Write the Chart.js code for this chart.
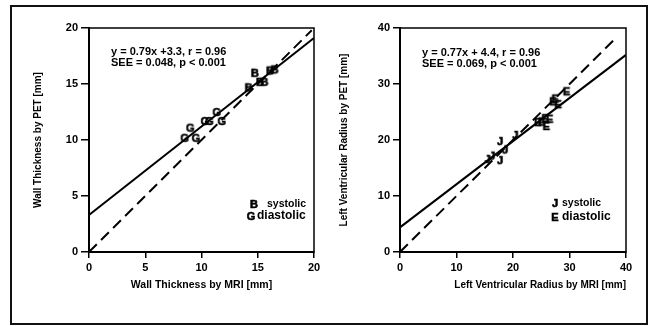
<!DOCTYPE html>
<html>
<head>
<meta charset="utf-8">
<script src="https://cdn.jsdelivr.net/npm/chart.js@4.4.1/dist/chart.umd.min.js"></script>
<style>
  html, body { margin: 0; padding: 0; background: #fff; }
  #page { position: relative; width: 648px; height: 326px; overflow: hidden; }
  #frame { position: absolute; left: 10px; top: 5px; width: 634px; height: 316px; border: 2px solid #111; }
  #wallChart { position: absolute; left: 0; top: 0; }
  #lvChart { position: absolute; left: 330px; top: 0; }
</style>
</head>
<body>
<div id="page">
  <div id="frame"></div>
  <canvas id="wallChart" width="330" height="326"></canvas>
  <canvas id="lvChart" width="318" height="326"></canvas>
</div>
<script>
// --- data: wall thickness (mm) ---
const wallSystolicMri  = [14.2, 14.75, 15.2, 15.6, 16.1, 16.5];
const wallSystolicPet  = [14.7, 16.0, 15.2, 15.2, 16.2, 16.3];
const wallDiastolicMri = [8.5, 9.0, 9.5, 10.3, 10.7, 11.35, 11.8];
const wallDiastolicPet = [10.2, 11.1, 10.2, 11.7, 11.7, 12.5, 11.7];
const wallFit = [0.79, 3.3];          // slope, intercept
const wallAxis = [0, 20, 5];          // min, max, step
const wallIdentityEnd = 19.8;

// --- data: left ventricular radius (mm) ---
const lvSystolicMri  = [15.5, 16.3, 17.7, 17.7, 18.6, 20.4];
const lvSystolicPet  = [16.6, 17.2, 16.4, 19.8, 18.3, 20.9];
const lvDiastolicMri = [24.4, 25.1, 25.7, 25.9, 26.5, 27.1, 27.5, 28.0, 29.5];
const lvDiastolicPet = [23.2, 23.3, 23.9, 22.5, 23.8, 26.9, 27.4, 26.4, 28.7];
const lvFit = [0.77, 4.4];
const lvAxis = [0, 40, 10];
const lvIdentityEnd = 38;

const FONT = '"Liberation Sans", Arial, Helvetica, sans-serif';
const INK = '#000';

// letter glyphs used as point markers (as in the printed figure)
function makeGlyph(letter, size) {
    const c = document.createElement('canvas');
    c.width = 14; c.height = 14;
    const g = c.getContext('2d');
    g.font = `bold ${size}px ${FONT}`;
    g.fillStyle = INK;
    g.strokeStyle = INK;
    g.lineWidth = 0.6;
    g.textAlign = 'center';
    g.textBaseline = 'middle';
    g.fillText(letter, 7, 7.5);
    g.strokeText(letter, 7, 7.5);
    return c;
}

const zip = (xs, ys) => xs.map((x, i) => ({ x, y: ys[i] }));

// frame + equation + legend text
const panelDecor = {
    id: 'panelDecor',
    beforeDatasetsDraw(chart) {
        const { ctx, chartArea: a } = chart;
        ctx.save();
        ctx.strokeStyle = INK;
        ctx.lineWidth = 1.5;
        ctx.strokeRect(a.left, a.top, a.right - a.left, a.bottom - a.top);
        ctx.restore();
    },
    afterDatasetsDraw(chart, args, opts) {
        const { ctx, chartArea: a } = chart;
        ctx.save();
        ctx.fillStyle = INK;
        ctx.textBaseline = 'middle';
        ctx.textAlign = 'left';
        ctx.font = `bold 11px ${FONT}`;
        opts.equation.forEach((line, i) => {
            ctx.fillText(line, a.left + opts.eqAt[0], a.top + opts.eqAt[1] + i * 11);
        });
        opts.legend.forEach(item => {
            const img = item.glyph;
            ctx.drawImage(img, a.left + item.g[0] - img.width / 2, a.top + item.g[1] - img.height / 2);
            ctx.font = `bold ${item.size}px ${FONT}`;
            ctx.fillText(item.text, a.left + item.t[0], a.top + item.t[1]);
        });
        ctx.restore();
    }
};

function axisOptions(range, titleText, extra) {
    return {
        type: 'linear',
        min: range[0], max: range[1],
        ticks: { stepSize: range[2], color: INK, font: { family: FONT, size: 11, weight: 'bold' } },
        grid: { drawOnChartArea: false, drawTicks: true, color: INK, lineWidth: 1.5 },
        border: { display: true, color: INK, width: 2 },
        title: { display: true, text: titleText, color: INK, font: { family: FONT, size: 10, weight: 'bold' } },
        ...extra
    };
}

function createPanel(canvasId, p) {
    const glyphSys = makeGlyph(p.sysLetter, 11);
    const glyphDia = makeGlyph(p.diaLetter, 11);
    const [m, b] = p.fit;
    const xMax = p.axis[1];
    return new Chart(document.getElementById(canvasId), {
        type: 'scatter',
        data: {
            datasets: [
                { data: zip(p.sysX, p.sysY), pointStyle: glyphSys, pointRadius: 5 },
                { data: zip(p.diaX, p.diaY), pointStyle: glyphDia, pointRadius: 5 },
                { data: [{ x: 0, y: b }, { x: xMax, y: m * xMax + b }], showLine: true,
                  borderColor: INK, borderWidth: 2, pointRadius: 0 },
                { data: [{ x: 0, y: 0 }, { x: p.identityEnd, y: p.identityEnd }], showLine: true,
                  borderColor: INK, borderWidth: 2, borderDash: [11, 6], pointRadius: 0 }
            ]
        },
        options: {
            responsive: false,
            animation: false,
            devicePixelRatio: 1,
            layout: { padding: p.padding },
            scales: {
                x: axisOptions(p.axis, p.xTitle, {
                    afterFit: s => { s.height = 45; }
                }),
                y: axisOptions(p.axis, p.yTitle, {
                    afterFit: s => { s.width = p.yWidth; }
                })
            },
            plugins: {
                legend: { display: false },
                tooltip: { enabled: false },
                panelDecor: {
                    equation: p.equation,
                    eqAt: p.eqAt,
                    legend: [
                        { glyph: glyphSys, g: p.legSys[0], t: p.legSys[1], text: 'systolic', size: 10.5 },
                        { glyph: glyphDia, g: p.legDia[0], t: p.legDia[1], text: 'diastolic', size: 12 }
                    ]
                }
            }
        },
        plugins: [panelDecor]
    });
}

function tuneScales(chart, p) {
    const { x, y } = chart.options.scales;
    x.grid.tickLength = 6;
    x.ticks.padding = 3;
    x.title.padding = { top: 0, bottom: 6 };
    x.title.font.size = p.xTitleSize;
    x.title.align = p.xAlign;
    y.grid.tickLength = p.yTick;
    y.ticks.padding = 3;
    y.title.padding = { top: p.yTitlePad, bottom: 0 };
    chart.update();
}

const wallPanel = {
    sysX: wallSystolicMri, sysY: wallSystolicPet, diaX: wallDiastolicMri, diaY: wallDiastolicPet,
    sysLetter: 'B', diaLetter: 'G',
    fit: wallFit, axis: wallAxis, identityEnd: wallIdentityEnd,
    xTitle: 'Wall Thickness by MRI [mm]', yTitle: 'Wall Thickness by PET [mm]',
    padding: { left: 0, top: 28, right: 16, bottom: 29 }, yWidth: 89,
    xTitleSize: 10.5, xAlign: 'center', yTick: 8, yTitlePad: 32,
    equation: ['y = 0.79x +3.3, r = 0.96', 'SEE = 0.048, p < 0.001'], eqAt: [22, 24],
    legSys: [[165, 176], [178, 176]], legDia: [[162, 188], [168, 188]]
};

const lvPanel = {
    sysX: lvSystolicMri, sysY: lvSystolicPet, diaX: lvDiastolicMri, diaY: lvDiastolicPet,
    sysLetter: 'J', diaLetter: 'E',
    fit: lvFit, axis: lvAxis, identityEnd: lvIdentityEnd,
    xTitle: 'Left Ventricular Radius by MRI [mm]', yTitle: 'Left Ventricular Radius by PET [mm]',
    padding: { left: 0, top: 28, right: 22, bottom: 29 }, yWidth: 70,
    xTitleSize: 10, xAlign: 'end', yTick: 7, yTitlePad: 8,
    equation: ['y = 0.77x + 4.4, r = 0.96', 'SEE = 0.069, p < 0.001'], eqAt: [22, 25],
    legSys: [[155, 175], [162, 175]], legDia: [[155, 189], [162, 189]]
};

tuneScales(createPanel('wallChart', wallPanel), wallPanel);
tuneScales(createPanel('lvChart', lvPanel), lvPanel);
</script>
</body>
</html>
